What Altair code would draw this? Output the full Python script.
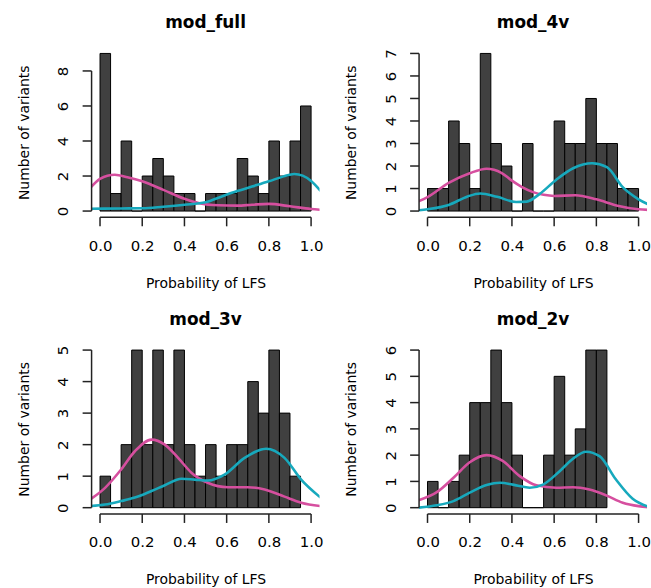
import altair as alt
import pandas as pd

# Histogram bins run from 0 to 1 in steps of 0.05
BIN_W = 0.05

panel_titles = ["mod_full", "mod_4v", "mod_3v", "mod_2v"]

counts_full = [9, 1, 4, 0, 2, 3, 2, 1, 1, 0, 1, 1, 1, 3, 2, 1, 4, 2, 4, 6]
counts_4v = [1, 1, 4, 3, 1, 7, 3, 2, 0, 3, 0, 0, 4, 3, 3, 5, 3, 3, 1, 1]
counts_3v = [1, 0, 2, 5, 2, 5, 2, 5, 2, 1, 2, 1, 2, 2, 4, 3, 5, 3, 1]
counts_2v = [1, 0, 1, 2, 4, 4, 6, 4, 2, 0, 0, 2, 5, 2, 3, 6, 6]

yticks_full = [0, 2, 4, 6, 8]
yticks_4v = [0, 1, 2, 3, 4, 5, 6, 7]
yticks_3v = [0, 1, 2, 3, 4, 5]
yticks_2v = [0, 1, 2, 3, 4, 5, 6]

xticks = [0.0, 0.2, 0.4, 0.6, 0.8, 1.0]

# Scaled density curves (pink and cyan) for each model
pink_x_full = [-0.045, 0.0, 0.07, 0.13, 0.2, 0.3, 0.4, 0.47, 0.56, 0.65, 0.72, 0.8, 0.9, 1.0, 1.045]
pink_y_full = [1.33, 1.84, 2.07, 1.93, 1.70, 1.21, 0.70, 0.45, 0.33, 0.31, 0.36, 0.41, 0.27, 0.12, 0.07]
cyan_x_full = [-0.045, 0.1, 0.2, 0.3, 0.4, 0.5, 0.58, 0.65, 0.72, 0.8, 0.87, 0.92, 0.96, 1.0, 1.045]
cyan_y_full = [0.13, 0.15, 0.16, 0.25, 0.36, 0.50, 0.85, 1.14, 1.40, 1.70, 1.98, 2.12, 2.02, 1.72, 1.15]

pink_x_4v = [-0.045, 0.0, 0.1, 0.2, 0.28, 0.35, 0.4, 0.45, 0.5, 0.55, 0.6, 0.7, 0.8, 0.9, 1.0, 1.045]
pink_y_4v = [0.42, 0.62, 1.25, 1.68, 1.88, 1.70, 1.35, 1.05, 0.84, 0.72, 0.67, 0.70, 0.52, 0.24, 0.08, 0.05]
cyan_x_4v = [-0.045, 0.0, 0.1, 0.19, 0.25, 0.33, 0.42, 0.47, 0.53, 0.61, 0.69, 0.78, 0.85, 0.925, 1.0, 1.045]
cyan_y_4v = [0.03, 0.08, 0.27, 0.65, 0.78, 0.63, 0.40, 0.42, 0.75, 1.39, 1.90, 2.12, 1.95, 1.06, 0.52, 0.30]

pink_x_3v = [-0.047, 0.024, 0.10, 0.165, 0.244, 0.307, 0.37, 0.433, 0.51, 0.606, 0.70, 0.78, 0.874, 0.953, 1.045]
pink_y_3v = [0.26, 0.63, 1.21, 1.79, 2.16, 2.00, 1.58, 1.11, 0.79, 0.65, 0.65, 0.58, 0.35, 0.16, 0.05]
cyan_x_3v = [-0.047, 0.024, 0.10, 0.165, 0.244, 0.307, 0.386, 0.449, 0.51, 0.59, 0.685, 0.787, 0.874, 0.953, 1.045]
cyan_y_3v = [0.05, 0.10, 0.21, 0.32, 0.53, 0.71, 0.92, 0.89, 0.86, 1.05, 1.58, 1.87, 1.58, 0.89, 0.32]

pink_x_2v = [-0.042, 0.044, 0.123, 0.2, 0.28, 0.358, 0.437, 0.516, 0.61, 0.689, 0.767, 0.846, 0.925, 1.0, 1.045]
pink_y_2v = [0.28, 0.59, 1.14, 1.73, 2.00, 1.77, 1.20, 0.85, 0.76, 0.78, 0.69, 0.47, 0.19, 0.06, 0.02]
cyan_x_2v = [-0.042, 0.044, 0.123, 0.2, 0.28, 0.343, 0.42, 0.484, 0.547, 0.626, 0.689, 0.751, 0.815, 0.893, 0.972, 1.045]
cyan_y_2v = [0.0, 0.09, 0.25, 0.57, 0.86, 0.95, 0.85, 0.76, 0.88, 1.39, 1.86, 2.13, 1.96, 1.07, 0.34, 0.04]

PINK = "#D64F9F"
CYAN = "#17A9BD"
BAR_FILL = "#404040"
AXIS_COLOR = "#222222"
FONT = "DejaVu Sans"

W, H = 229, 171
TICK_LEN = 9


def panel(title, counts, yticks, px, py, cx, cy):
    ymax = max(counts)
    xscale = alt.Scale(domain=[-0.04, 1.04], nice=False, zero=False)
    yscale = alt.Scale(domain=[-0.04 * ymax, 1.04 * ymax], nice=False, zero=False)

    bars_df = pd.DataFrame({
        "start": [round(i * BIN_W, 2) for i in range(len(counts))],
        "count": counts,
    })
    bars_df["end"] = bars_df["start"] + BIN_W
    bars_df["base"] = 0

    # axis ticks and lines are drawn as marks below, R-style
    xaxis = alt.Axis(
        values=xticks, format=".1f", title="Probability of LFS",
        domain=False, grid=False, ticks=False, labelPadding=12 + TICK_LEN,
        labelFont=FONT, labelFontSize=15, labelColor="black",
        titleFont=FONT, titleFontSize=14, titleFontWeight="normal", titleColor="black",
        titleX=W / 2, titleY=70, titleBaseline="alphabetic", titleAlign="center",
    )
    yaxis = alt.Axis(
        values=yticks, title="Number of variants",
        domain=False, grid=False, ticks=False,
        labelFont=FONT, labelFontSize=15, labelColor="black",
        titleFont=FONT, titleFontSize=14, titleFontWeight="normal", titleColor="black",
        labelAngle=270, labelAlign="center", labelBaseline="alphabetic",
        labelPadding=15 + TICK_LEN,
        titleAngle=270, titleX=-63.5, titleY=H / 2,
        titleBaseline="alphabetic", titleAlign="center",
    )

    def xenc(field):
        return alt.X(field, scale=xscale, axis=xaxis)

    def yenc(field):
        return alt.Y(field, scale=yscale, axis=yaxis)

    bars = alt.Chart(bars_df).mark_rect(
        fill=BAR_FILL, stroke="black", strokeWidth=1
    ).encode(
        x=xenc("start:Q"),
        x2="end:Q",
        y=yenc("count:Q"),
        y2="base:Q",
    )

    def curve(xs, ys, color):
        df = pd.DataFrame({"px": xs, "py": ys})
        return alt.Chart(df).mark_line(
            color=color, strokeWidth=2.6, interpolate="monotone", clip=True
        ).encode(
            x=xenc("px:Q"),
            y=yenc("py:Q"),
        )

    # axis lines span first to last tick only
    xline = alt.Chart(pd.DataFrame({"xa": [xticks[0], xticks[-1]]})).mark_line(
        color=AXIS_COLOR, strokeWidth=1.5
    ).encode(
        x=xenc("xa:Q"),
        y=alt.value(H),
    )
    yline = alt.Chart(pd.DataFrame({"ya": [yticks[0], yticks[-1]]})).mark_line(
        color=AXIS_COLOR, strokeWidth=1.5
    ).encode(
        y=yenc("ya:Q"),
        x=alt.value(0),
    )

    # outward tick marks
    xtick_marks = alt.Chart(pd.DataFrame({"xt": xticks})).mark_tick(
        orient="vertical", size=TICK_LEN, thickness=1.5, color=AXIS_COLOR, opacity=1
    ).encode(
        x=xenc("xt:Q"),
        y=alt.value(H + TICK_LEN / 2),
    )
    ytick_marks = alt.Chart(pd.DataFrame({"yt": yticks})).mark_tick(
        orient="horizontal", size=TICK_LEN, thickness=1.5, color=AXIS_COLOR, opacity=1
    ).encode(
        y=yenc("yt:Q"),
        x=alt.value(-TICK_LEN / 2),
    )

    return alt.layer(
        bars, curve(px, py, PINK), curve(cx, cy, CYAN),
        xline, yline, xtick_marks, ytick_marks,
    ).properties(
        width=W, height=H,
        title=alt.TitleParams(
            title, font=FONT, fontSize=17, fontWeight="bold", color="black",
            offset=2, baseline="alphabetic", anchor="middle",
        ),
    )


p_full = panel(panel_titles[0], counts_full, yticks_full, pink_x_full, pink_y_full, cyan_x_full, cyan_y_full)
p_4v = panel(panel_titles[1], counts_4v, yticks_4v, pink_x_4v, pink_y_4v, cyan_x_4v, cyan_y_4v)
p_3v = panel(panel_titles[2], counts_3v, yticks_3v, pink_x_3v, pink_y_3v, cyan_x_3v, cyan_y_3v)
p_2v = panel(panel_titles[3], counts_2v, yticks_2v, pink_x_2v, pink_y_2v, cyan_x_2v, cyan_y_2v)

chart = alt.concat(
    p_full, p_4v, p_3v, p_2v,
    columns=2,
    spacing={"row": 127, "column": 100},
    bounds="flush",
).resolve_scale(
    x="independent", y="independent"
).properties(
    padding={"left": 17, "top": 13, "right": 0, "bottom": 0},
    background="white",
).configure_view(
    stroke=None
)

chart.save("out.html", embed_options={"renderer": "svg", "actions": False})
